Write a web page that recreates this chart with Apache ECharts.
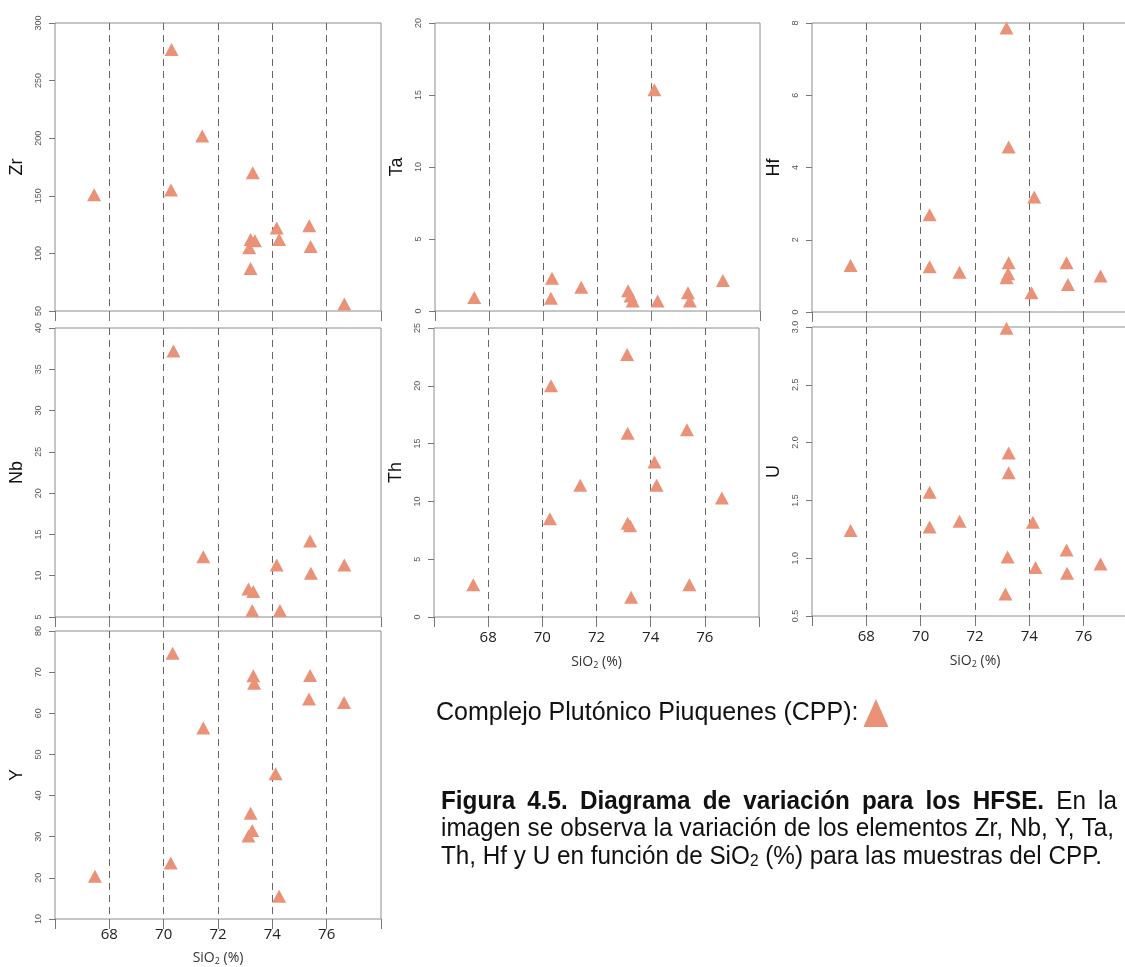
<!DOCTYPE html>
<html>
<head>
<meta charset="utf-8">
<script src="https://cdn.jsdelivr.net/npm/echarts@6/dist/echarts.min.js"></script>
<style>
html,body{margin:0;padding:0;background:#ffffff;}
#c{width:1125px;height:967px;}
</style>
</head>
<body>
<div id="c"></div>
<script>
// ---------------- data ----------------
const legendName = 'Complejo Plutónico Piuquenes (CPP):';
const xTickLabels = ['68', '70', '72', '74', '76'];

const zrSiO2 = [67.44, 70.29, 70.27, 71.42, 73.28, 73.20, 73.36, 73.15, 73.20, 74.16, 74.25, 75.36, 75.41, 76.65];
const zrVals = [151, 277, 155, 202, 170, 112, 111, 105, 87, 122, 112, 124, 106, 56];

const nbSiO2 = [70.36, 71.46, 73.12, 73.30, 73.26, 74.16, 74.28, 75.39, 75.42, 76.65];
const nbVals = [37.2, 12.3, 8.4, 8.1, 5.8, 11.3, 5.8, 14.2, 10.3, 11.3];

const ySiO2 = [67.47, 70.33, 70.26, 71.46, 73.30, 73.33, 73.20, 73.26, 73.12, 74.12, 74.25, 75.39, 75.35, 76.64];
const yVals = [20.4, 74.6, 23.6, 56.4, 69.1, 67.3, 35.7, 31.5, 30.2, 45.3, 15.5, 69.2, 63.5, 62.6];

const taSiO2 = [67.45, 70.32, 70.28, 71.40, 73.13, 73.22, 73.30, 74.10, 74.22, 75.34, 75.41, 76.63];
const taVals = [0.93, 2.27, 0.88, 1.65, 1.41, 1.04, 0.70, 15.37, 0.70, 1.27, 0.70, 2.11];

const thSiO2 = [67.45, 70.32, 70.28, 71.40, 73.13, 73.15, 73.15, 73.24, 73.28, 74.14, 74.22, 75.34, 75.43, 76.63];
const thVals = [2.8, 20.0, 8.5, 11.4, 22.7, 15.9, 8.1, 7.9, 1.7, 13.4, 11.4, 16.2, 2.8, 10.3];

const hfSiO2 = [67.42, 70.33, 70.33, 71.43, 73.16, 73.24, 73.24, 73.16, 73.22, 74.18, 74.08, 75.37, 75.42, 76.62];
const hfVals = [1.29, 2.69, 1.25, 1.10, 7.86, 4.57, 1.36, 0.95, 1.06, 3.18, 0.53, 1.36, 0.76, 1.00];

const uSiO2 = [67.42, 70.33, 70.33, 71.43, 73.16, 73.24, 73.24, 73.20, 73.12, 74.13, 74.23, 75.37, 75.39, 76.62];
const uVals = [1.24, 1.57, 1.27, 1.32, 2.99, 1.91, 1.74, 1.01, 0.69, 1.31, 0.92, 1.07, 0.87, 0.95];

// y-axis scales [min, max, step]
const zrScale = [50, 300, 50];
const nbScale = [5, 40, 5];
const yScale = [10, 80, 10];
const taScale = [0, 20, 5];
const thScale = [0, 25, 5];
const hfScale = [0, 8, 2];
const uScale = [0.5, 3.0, 0.5];
const xScale = [66, 78, 2];

// ---------------- layout ----------------
const panels = [
  {name: 'Zr', x: zrSiO2, y: zrVals, s: zrScale, dec: false, bottom: false, lm: 13, ng: 36, g: {left: 55, top: 23, width: 326, height: 288}},
  {name: 'Nb', x: nbSiO2, y: nbVals, s: nbScale, dec: false, bottom: false, lm: 13, ng: 36, g: {left: 55, top: 328, width: 326, height: 289}},
  {name: 'Y',  x: ySiO2,  y: yVals,  s: yScale,  dec: false, bottom: true,  lm: 8,  ng: 31, g: {left: 55, top: 631, width: 326, height: 288}},
  {name: 'Ta', x: taSiO2, y: taVals, s: taScale, dec: false, bottom: false, lm: 13, ng: 36, g: {left: 435, top: 23, width: 325, height: 288}},
  {name: 'Th', x: thSiO2, y: thVals, s: thScale, dec: false, bottom: true,  lm: 13, ng: 37, g: {left: 434, top: 328, width: 325, height: 289}},
  {name: 'Hf', x: hfSiO2, y: hfVals, s: hfScale, dec: false, bottom: false, lm: 13, ng: 36, g: {left: 812, top: 23, width: 326, height: 289}},
  {name: 'U',  x: uSiO2,  y: uVals,  s: uScale,  dec: true,  bottom: true,  lm: 13, ng: 37, g: {left: 812, top: 327, width: 326, height: 289}}
];

const markerColor = '#EA9277';
const boxColor = '#8c8c8c';

const grids = panels.map(p => Object.assign({
  show: true, borderColor: boxColor, borderWidth: 1, backgroundColor: 'transparent',
  containLabel: false, outerBoundsMode: 'none'
}, p.g));

const xAxes = panels.map((p, i) => ({
  gridIndex: i, type: 'value', min: xScale[0], max: xScale[1], interval: xScale[2],
  axisLine: {show: false},
  axisTick: {show: true, length: 10, lineStyle: {color: '#777', width: 1}},
  axisLabel: {
    show: p.bottom, fontSize: 15, color: '#222', margin: p.lm, fontFamily: 'Open Sans',
    formatter: v => (xTickLabels.indexOf(String(v)) >= 0 ? String(v) : '')
  },
  splitLine: {show: true, showMinLine: false, showMaxLine: false,
    lineStyle: {type: [7, 5], color: '#666', width: 1}},
  name: p.bottom ? '{a|SiO}{s|2}{a| (%)}' : '',
  nameLocation: 'middle', nameGap: p.ng,
  nameTextStyle: {
    color: '#333', fontFamily: 'Open Sans',
    rich: {
      a: {fontSize: 14, color: '#333', fontFamily: 'Open Sans'},
      s: {fontSize: 9, color: '#333', fontFamily: 'Open Sans', padding: [7, 0, 0, 0]}
    }
  }
}));

const yAxes = panels.map((p, i) => ({
  gridIndex: i, type: 'value', min: p.s[0], max: p.s[1], interval: p.s[2],
  name: p.name, nameLocation: 'middle', nameGap: 29, nameRotate: 90,
  nameTextStyle: {fontSize: 18, color: '#111', fontFamily: 'Liberation Sans'},
  axisLine: {show: false},
  axisTick: {show: true, length: 6, lineStyle: {color: '#777', width: 1}},
  axisLabel: {
    rotate: 90, fontSize: 9, color: '#555', margin: 12, fontFamily: 'Liberation Sans',
    formatter: p.dec ? (v => v.toFixed(1)) : (v => String(v))
  },
  splitLine: {show: false}
}));

const series = panels.map((p, i) => ({
  type: 'scatter', name: legendName, xAxisIndex: i, yAxisIndex: i,
  data: p.x.map((v, j) => [v, p.y[j]]),
  symbol: 'triangle', symbolSize: [14, 13],
  itemStyle: {color: markerColor, opacity: 1},
  clip: true, silent: true
}));

// ---------------- caption (justified text) ----------------
const capFamily = 'Liberation Sans';
const capSize = 25;
const subSize = 16;
const mctx = document.createElement('canvas').getContext('2d');
function tw(t, bold, size) {
  mctx.font = (bold ? 'bold ' : '') + (size || capSize) + 'px "' + capFamily + '"';
  return mctx.measureText(t).width;
}
const capLine1 = [['Figura', 1], ['4.5.', 1], ['Diagrama', 1], ['de', 1], ['variación', 1], ['para', 1], ['los', 1], ['HFSE.', 1], ['En', 0], ['la', 0]];
const capLine2 = 'imagen se observa la variación de los elementos Zr, Nb, Y, Ta,'.split(' ').map(t => [t, 0]);
const capLine3 = 'Th, Hf y U en función de SiO2 (%) para las muestras del CPP.'.split(' ').map(t => [t, 0]);

function wordWidth(wd) {
  if (wd[0] === 'SiO2') return tw('SiO', false) + tw('2', false, subSize);
  return tw(wd[0], wd[1]);
}
const capLeft = 441;
const line3Right = 1102;
const natural3 = capLine3.reduce((a, wd) => a + wordWidth(wd), 0) + (capLine3.length - 1) * tw(' ', false);
const capScale = (line3Right - capLeft) / natural3;

const graphics = [];
function layLine(words, y, right) {
  const ws = words.map(wd => wordWidth(wd) * capScale);
  let gap;
  if (right) {
    const total = ws.reduce((a, b) => a + b, 0);
    gap = (right - capLeft - total) / (words.length - 1);
  } else {
    gap = tw(' ', false) * capScale;
  }
  let x = capLeft;
  words.forEach((wd, k) => {
    const el = {type: 'text', x: x, y: y, scaleX: capScale, silent: true, style: {
      fill: '#111', fontFamily: capFamily, fontSize: capSize, fontWeight: wd[1] ? 'bold' : 'normal',
      align: 'left', verticalAlign: 'middle', text: wd[0]
    }};
    if (wd[0] === 'SiO2') {
      el.style.text = '{a|SiO}{s|2}';
      el.style.rich = {
        a: {fontSize: capSize, fontFamily: capFamily, fill: '#111'},
        s: {fontSize: subSize, fontFamily: capFamily, fill: '#111', padding: [10, 0, 0, 0]}
      };
    }
    graphics.push(el);
    x += ws[k] + gap;
  });
}
layLine(capLine1, 802, 1117);
layLine(capLine2, 829, 1114);
layLine(capLine3, 857, null);

// ---------------- chart ----------------
const chart = echarts.init(document.getElementById('c'), null, {renderer: 'canvas'});
chart.setOption({
  animation: false,
  backgroundColor: '#ffffff',
  grid: grids,
  xAxis: xAxes,
  yAxis: yAxes,
  legend: {
    data: [legendName], left: 436, top: 699, align: 'right', icon: 'triangle',
    itemWidth: 25, itemHeight: 28, selectedMode: false, padding: 0,
    textStyle: {fontSize: 25, color: '#111', fontFamily: 'Liberation Sans'}
  },
  graphic: graphics,
  series: series
});
</script>
</body>
</html>
